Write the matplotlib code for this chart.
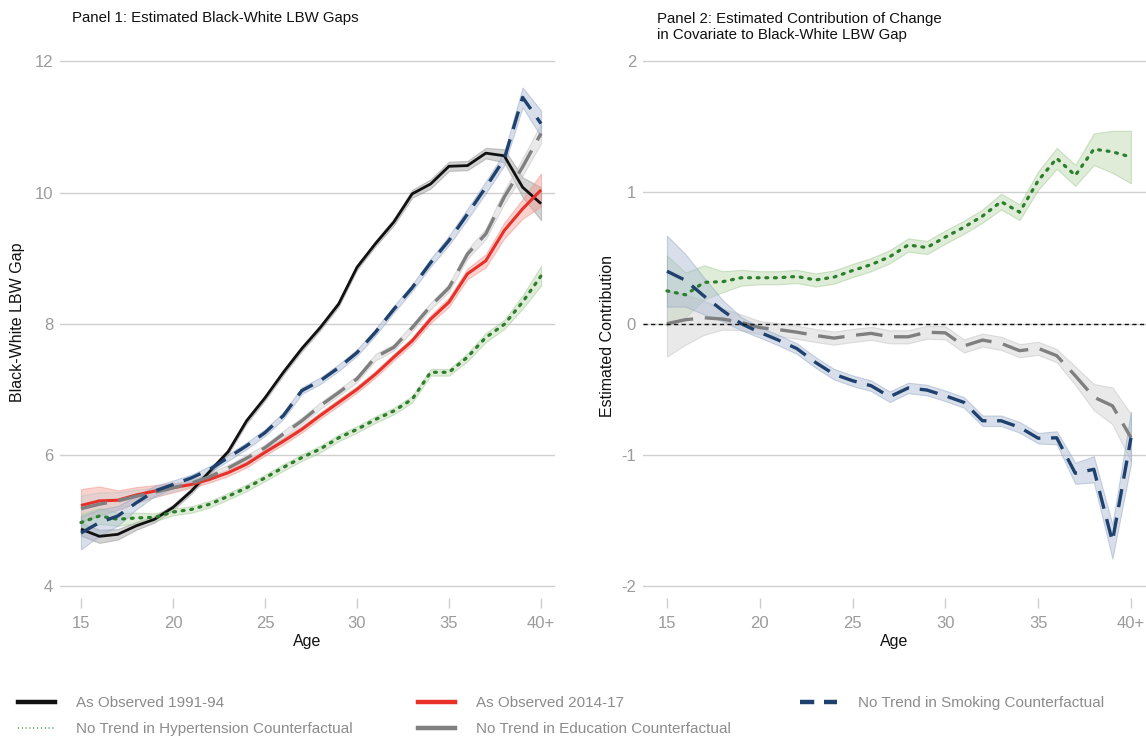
import numpy as np
import matplotlib
matplotlib.use("Agg")
import matplotlib.pyplot as plt
from matplotlib.lines import Line2D

plt.rcParams['font.family'] = ['Liberation Sans', 'DejaVu Sans']
plt.rcParams['axes.unicode_minus'] = False

ages = list(range(15, 41))
age_ticks = [15, 20, 25, 30, 35, 40]
age_tick_labels = ["15", "20", "25", "30", "35", "40+"]

# Panel 1: estimated Black-White LBW gaps
gap_1991 = [4.87, 4.76, 4.79, 4.92, 5.02, 5.20, 5.45, 5.75, 6.05, 6.52, 6.87, 7.26, 7.62,
            7.94, 8.30, 8.86, 9.22, 9.55, 9.98, 10.13, 10.40, 10.41, 10.60, 10.56, 10.08, 9.83]
gap_1991_se = [0.10, 0.10, 0.08, 0.06, 0.05, 0.04, 0.04, 0.04, 0.04, 0.04, 0.04, 0.04, 0.04,
               0.04, 0.04, 0.04, 0.04, 0.05, 0.06, 0.07, 0.07, 0.07, 0.08, 0.10, 0.15, 0.25]
gap_2014 = [5.23, 5.30, 5.31, 5.39, 5.45, 5.50, 5.55, 5.63, 5.73, 5.86, 6.04, 6.21, 6.39,
            6.60, 6.80, 7.00, 7.23, 7.49, 7.74, 8.07, 8.33, 8.76, 8.96, 9.42, 9.75, 10.04]
gap_2014_se = [0.25, 0.22, 0.15, 0.12, 0.09, 0.07, 0.05, 0.05, 0.05, 0.05, 0.05, 0.05, 0.05,
               0.05, 0.05, 0.05, 0.05, 0.05, 0.05, 0.06, 0.07, 0.08, 0.10, 0.12, 0.15, 0.25]
gap_smoking = [4.81, 4.97, 5.07, 5.27, 5.45, 5.55, 5.65, 5.78, 5.96, 6.14, 6.34, 6.60, 6.98,
               7.13, 7.33, 7.56, 7.87, 8.22, 8.55, 8.93, 9.27, 9.67, 10.08, 10.51, 11.45, 11.05]
gap_smoking_se = [0.25, 0.20, 0.15, 0.10, 0.08, 0.06, 0.05, 0.05, 0.05, 0.05, 0.05, 0.05, 0.05,
                  0.05, 0.05, 0.05, 0.05, 0.05, 0.05, 0.06, 0.07, 0.08, 0.09, 0.10, 0.15, 0.20]
gap_education = [5.18, 5.25, 5.30, 5.37, 5.43, 5.50, 5.57, 5.67, 5.80, 5.95, 6.11, 6.32, 6.52,
                 6.75, 6.95, 7.16, 7.49, 7.64, 7.94, 8.27, 8.55, 9.06, 9.37, 9.93, 10.39, 10.90]
gap_education_se = [0.20, 0.18, 0.13, 0.10, 0.07, 0.06, 0.05, 0.05, 0.05, 0.05, 0.05, 0.05, 0.05,
                    0.05, 0.05, 0.05, 0.05, 0.05, 0.05, 0.05, 0.06, 0.07, 0.08, 0.10, 0.13, 0.15]
gap_hypertension = [4.97, 5.07, 5.02, 5.04, 5.05, 5.13, 5.17, 5.25, 5.37, 5.50, 5.65, 5.81, 5.96,
                    6.09, 6.26, 6.39, 6.54, 6.67, 6.85, 7.26, 7.26, 7.49, 7.79, 7.99, 8.33, 8.73]
gap_hypertension_se = [0.12, 0.12, 0.10, 0.08, 0.06, 0.05, 0.05, 0.05, 0.05, 0.05, 0.05, 0.05, 0.05,
                       0.05, 0.05, 0.05, 0.05, 0.05, 0.05, 0.05, 0.05, 0.06, 0.07, 0.07, 0.10, 0.15]

# Panel 2: contribution of each covariate's change to the gap
contrib_hypertension = [0.25, 0.22, 0.315, 0.32, 0.35, 0.35, 0.35, 0.36, 0.333, 0.355, 0.405, 0.45, 0.51,
                        0.60, 0.58, 0.66, 0.735, 0.82, 0.93, 0.85, 1.09, 1.26, 1.13, 1.33, 1.31, 1.27]
contrib_hypertension_se = [0.27, 0.17, 0.13, 0.08, 0.06, 0.05, 0.05, 0.05, 0.05, 0.05, 0.05, 0.05, 0.05,
                           0.05, 0.05, 0.05, 0.05, 0.05, 0.06, 0.06, 0.07, 0.08, 0.08, 0.12, 0.16, 0.20]
contrib_smoking = [0.40, 0.33, 0.21, 0.10, 0.0, -0.066, -0.125, -0.19, -0.295, -0.385, -0.435, -0.473, -0.557,
                   -0.49, -0.506, -0.55, -0.60, -0.74, -0.74, -0.79, -0.873, -0.87, -1.14, -1.11, -1.66, -0.87]
contrib_smoking_se = [0.27, 0.20, 0.14, 0.08, 0.05, 0.04, 0.04, 0.04, 0.04, 0.04, 0.04, 0.04, 0.04,
                      0.04, 0.04, 0.04, 0.04, 0.04, 0.04, 0.04, 0.04, 0.05, 0.08, 0.10, 0.13, 0.20]
contrib_education = [0.0, 0.03, 0.045, 0.035, 0.01, -0.03, -0.045, -0.065, -0.09, -0.11, -0.09, -0.074, -0.10,
                     -0.10, -0.065, -0.07, -0.17, -0.125, -0.15, -0.206, -0.188, -0.244, -0.397, -0.56, -0.626, -0.868]
contrib_education_se = [0.25, 0.19, 0.13, 0.08, 0.06, 0.05, 0.05, 0.05, 0.05, 0.05, 0.05, 0.05, 0.05,
                        0.05, 0.05, 0.05, 0.05, 0.05, 0.05, 0.05, 0.05, 0.05, 0.07, 0.10, 0.14, 0.18]

BLACK = "#111111"
RED = "#e8302a"
NAVY = "#1e416e"
GREEN = "#2c7d2c"
GREY = "#7f7f7f"
TICK_GREY = "#9b9b9b"

styles = {
    "black": dict(color=BLACK, lw=2.0, ls="-", band="#9e9e9e", edge="#8a8a8a"),
    "red": dict(color=RED, lw=2.2, ls="-", band="#f29a91", edge="#ee8a80"),
    "navy": dict(color=NAVY, lw=2.4, ls=(0, (5.5, 3.2)), band="#a9b9d3", edge="#8ea2c2"),
    "grey": dict(color=GREY, lw=2.4, ls=(0, (8, 3.5)), band="#cfcfcf", edge="#bdbdbd"),
    "green": dict(color=GREEN, lw=2.3, ls=(0, (0.6, 2.1)), band="#b6d6aa", edge="#9cc48d"),
}


def draw_series(ax, y, se, key, band_alpha=0.45):
    st = styles[key]
    y = np.asarray(y)
    se = np.asarray(se)
    ax.fill_between(ages, y - se, y + se, facecolor=st["band"], alpha=band_alpha,
                    edgecolor=st["edge"], linewidth=0.8, zorder=2)
    line, = ax.plot(ages, y, color=st["color"], lw=st["lw"], linestyle=st["ls"],
                    zorder=3, solid_capstyle="butt",
                    dash_capstyle="round" if key == "green" else "butt")
    return line


def style_axis(ax, yticks, xlim, ylim):
    ax.set_xlim(*xlim)
    ax.set_ylim(*ylim)
    ax.set_yticks(yticks)
    ax.set_xticks(age_ticks)
    ax.set_xticklabels(age_tick_labels)
    for s in ax.spines.values():
        s.set_visible(False)
    ax.grid(axis="y", color="#cfcfcf", lw=1.0)
    ax.set_axisbelow(True)
    ax.tick_params(axis="y", length=0, pad=5, labelsize=12, labelcolor=TICK_GREY)
    ax.tick_params(axis="x", length=7, width=1, color="#cccccc", pad=6,
                   labelsize=12, labelcolor=TICK_GREY)
    ax.set_xlabel("Age", fontsize=11.5, color="#111111", labelpad=2)


W, H = 1146, 742
fig = plt.figure(figsize=(W / 100, H / 100), dpi=100)

# axes placed in pixel terms
def px_axes(x0, y0, x1, y1):
    return fig.add_axes([x0 / W, 1 - y1 / H, (x1 - x0) / W, (y1 - y0) / H])

ax1 = px_axes(60, 58, 555, 598)
ax2 = px_axes(643, 58, 1146, 598)

draw_series(ax1, gap_1991, gap_1991_se, "black")
draw_series(ax1, gap_2014, gap_2014_se, "red")
draw_series(ax1, gap_education, gap_education_se, "grey")
draw_series(ax1, gap_hypertension, gap_hypertension_se, "green")
draw_series(ax1, gap_smoking, gap_smoking_se, "navy")
style_axis(ax1, [4, 6, 8, 10, 12], (13.86, 40.76), (3.82, 12.05))
ax1.set_ylabel("Black-White LBW Gap", fontsize=11.5, color="#111111")
ax1.yaxis.set_label_coords(-0.071, 0.511)

draw_series(ax2, contrib_hypertension, contrib_hypertension_se, "green")
draw_series(ax2, contrib_education, contrib_education_se, "grey")
draw_series(ax2, contrib_smoking, contrib_smoking_se, "navy")
ax2.axhline(0, color="#111111", lw=1.0, ls=(0, (3, 2.5)), zorder=4)
style_axis(ax2, [-2, -1, 0, 1, 2], (13.71, 40.81), (-2.091, 2.025))
ax2.set_ylabel("Estimated Contribution", fontsize=11.5, color="#111111")
ax2.yaxis.set_label_coords(-0.056, 0.485)

fig.text(72 / W, 1 - 18 / H, "Panel 1: Estimated Black-White LBW Gaps",
         fontsize=10.8, ha="left", va="center", color="#111111")
fig.text(657 / W, 1 - 27 / H,
         "Panel 2: Estimated Contribution of Change\nin Covariate to Black-White LBW Gap",
         fontsize=10.8, ha="left", va="center", color="#111111", linespacing=1.1)

# legend, laid out as three columns
h_black = Line2D([], [], color=BLACK, lw=3.2)
h_red = Line2D([], [], color=RED, lw=3.2)
h_navy = Line2D([], [], color=NAVY, lw=3.2, linestyle=(0, (3.2, 2.2)))
h_green = Line2D([], [], color=GREEN, lw=1.2, linestyle=(0, (0.5, 1.8)))
h_grey = Line2D([], [], color=GREY, lw=3.2)

legend_cols = [
    (18, [h_black, h_green], ["As Observed 1991-94", "No Trend in Hypertension Counterfactual"]),
    (418, [h_red, h_grey], ["As Observed 2014-17", "No Trend in Education Counterfactual"]),
    (800, [h_navy], ["No Trend in Smoking Counterfactual"]),
]
for x0, hs, labs in legend_cols:
    fig.legend(hs, labs, loc="upper left", bbox_to_anchor=(x0 / W, 1 - 696 / H),
               frameon=False, fontsize=11, labelcolor="#8c8c8c", handlelength=2.4,
               handletextpad=1.4, labelspacing=0.8, borderpad=0, borderaxespad=0)

fig.savefig("out.png", dpi=100)
